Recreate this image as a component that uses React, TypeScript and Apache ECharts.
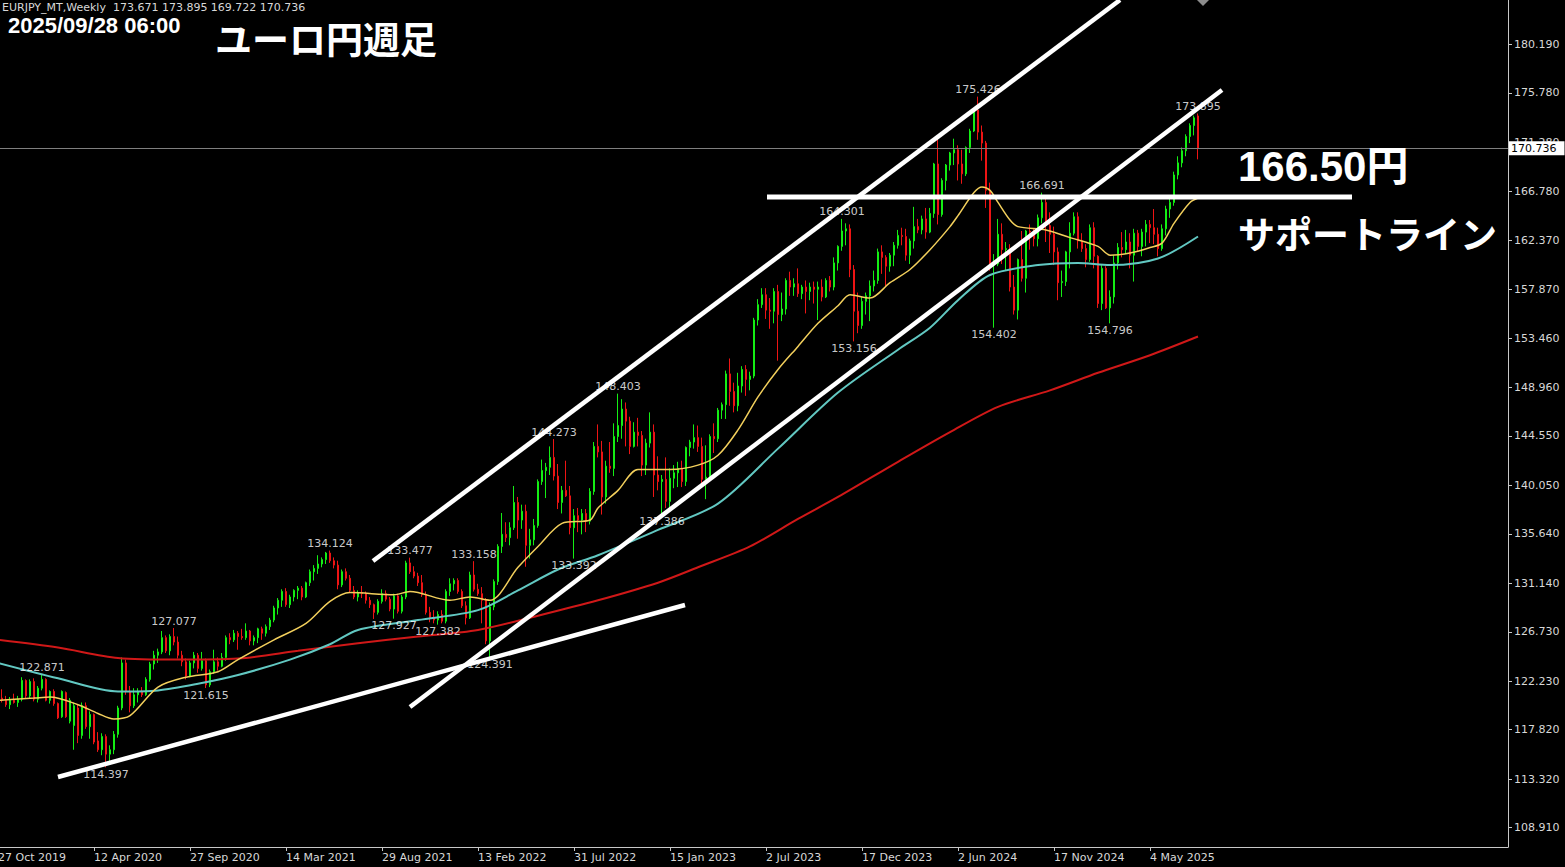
import React, { useEffect, useRef } from 'react';
import * as echarts from 'echarts';

// ---- data ----
const START_WEEK_UTC = Date.UTC(2019, 9, 27); // 27 Oct 2019
const TOTAL_SLOTS = 378;
const LABEL_STEP = 24;
const LAST_LABEL_INDEX = 300;
const MONTHS = ['Jan', 'Feb', 'Mar', 'Apr', 'May', 'Jun', 'Jul', 'Aug', 'Sep', 'Oct', 'Nov', 'Dec'];

// weekly candles [open, high, low, close]
const weeks2019 = [
  [120.9, 121.4, 120.4, 120.7], [120.7, 121.5, 120.3, 120.5], [120.5, 120.9, 119.9, 120.1], [120.1, 120.8, 119.7, 120.5],
  [120.5, 121.1, 120.2, 120.3], [120.3, 120.9, 119.9, 120.6], [120.6, 122.6, 120.4, 122.3], [122.3, 122.4, 120.7, 120.9],
  [120.9, 122.4, 120.7, 122.2], [122.2, 122.5, 120.4, 120.6],
];
const weeks2020 = [
  [120.6, 121.8, 120.3, 121.6], [121.6, 122.871, 121.4, 122.4], [122.4, 122.5, 120.4, 120.5], [120.5, 121.4, 120.2, 121.3],
  [121.3, 121.5, 120.0, 120.2], [120.2, 120.3, 118.8, 118.9], [119.0, 121.4, 118.9, 121.3], [121.2, 121.3, 118.9, 119.0],
  [118.6, 120.7, 118.4, 120.5], [118.2, 120.3, 116.0, 120.0], [119.8, 120.1, 116.6, 117.3], [117.3, 120.3, 117.0, 120.0],
  [120.0, 120.3, 117.9, 118.1], [118.1, 119.5, 117.0, 119.2], [119.2, 119.3, 116.5, 116.7], [116.8, 117.6, 115.8, 116.0],
  [116.0, 117.5, 115.5, 117.2], [117.2, 117.4, 114.397, 115.6], [115.6, 116.4, 114.9, 116.0], [116.0, 117.7, 115.6, 117.4],
  [117.4, 120.0, 117.1, 119.8], [119.8, 124.4, 119.6, 123.9], [123.9, 124.2, 121.0, 121.3], [121.3, 121.8, 119.4, 120.0],
  [120.0, 121.6, 119.8, 121.0], [121.0, 121.6, 120.3, 121.3], [121.3, 121.7, 120.8, 121.0], [121.0, 122.6, 120.9, 122.4],
  [122.4, 124.0, 122.2, 123.8], [123.8, 125.0, 123.3, 124.6], [124.6, 125.2, 123.9, 124.9], [124.9, 126.8, 124.7, 126.2],
  [126.2, 126.4, 124.8, 125.0], [125.0, 126.5, 124.6, 126.3], [126.3, 127.077, 125.5, 125.8], [125.8, 126.3, 124.3, 124.6],
  [124.6, 125.0, 123.6, 124.0], [124.0, 124.3, 122.4, 122.7], [122.7, 124.1, 122.6, 123.9], [123.9, 124.9, 123.4, 124.6],
  [124.6, 124.8, 123.0, 123.4], [123.4, 124.9, 123.2, 124.1], [124.1, 124.3, 121.615, 121.9], [121.9, 123.3, 121.7, 123.1],
  [123.1, 125.1, 122.9, 124.0], [124.0, 124.4, 123.2, 123.6], [123.6, 124.8, 123.5, 124.4], [124.4, 126.4, 124.1, 126.2],
  [126.2, 126.6, 125.6, 126.0], [126.0, 126.9, 125.8, 126.6], [126.6, 126.8, 125.1, 126.3], [126.3, 127.0, 126.0, 126.2],
];
const weeks2021 = [
  [126.2, 127.5, 126.0, 126.8], [126.8, 126.9, 125.5, 125.9], [125.9, 126.4, 125.5, 126.2], [126.2, 127.1, 125.7, 127.0],
  [127.0, 127.2, 126.0, 126.6], [126.6, 127.4, 126.3, 127.2], [127.2, 128.0, 126.9, 127.8], [127.8, 129.1, 127.6, 128.9],
  [128.9, 129.8, 128.3, 129.6], [129.6, 130.6, 129.0, 130.4], [130.4, 130.7, 129.0, 129.2], [129.2, 130.1, 128.9, 129.9],
  [129.9, 130.6, 129.5, 130.5], [130.5, 130.9, 129.7, 130.7], [130.7, 130.9, 129.6, 129.9], [129.9, 131.3, 129.8, 131.2],
  [131.2, 132.4, 130.9, 132.2], [132.2, 132.8, 131.4, 132.5], [132.5, 133.7, 132.0, 132.9], [132.9, 133.5, 132.6, 133.3],
  [133.3, 134.0, 132.9, 133.9], [133.9, 134.124, 133.0, 133.2], [133.2, 133.5, 132.5, 132.8], [132.8, 133.2, 130.6, 131.0],
  [131.0, 132.4, 130.8, 132.2], [132.2, 132.5, 131.4, 131.6], [131.6, 131.9, 130.3, 130.5], [130.5, 130.9, 129.7, 129.9],
  [129.9, 130.5, 129.5, 130.3], [130.3, 130.9, 129.8, 130.2], [130.2, 130.4, 129.3, 129.6], [129.6, 129.9, 128.9, 129.2],
  [129.2, 129.3, 127.9, 128.5], [128.5, 129.7, 128.3, 129.5], [129.5, 130.6, 129.3, 130.2], [130.2, 130.5, 129.5, 129.7],
  [129.7, 129.9, 128.6, 128.8], [128.8, 130.2, 127.927, 130.0], [130.0, 130.2, 128.4, 128.6], [128.6, 130.1, 128.4, 129.9],
  [129.9, 133.2, 129.7, 133.0], [133.0, 133.477, 132.0, 132.2], [132.2, 132.7, 131.6, 131.8], [131.8, 132.1, 130.9, 131.2],
  [131.2, 131.9, 129.9, 130.1], [130.1, 130.4, 128.3, 128.5], [128.5, 129.0, 127.6, 128.0], [128.0, 128.7, 127.5, 127.8],
  [127.8, 128.6, 127.382, 128.3], [128.3, 128.7, 127.5, 127.7], [127.7, 130.6, 127.5, 130.4], [130.4, 131.6, 130.0, 131.1],
];
const weeks2022 = [
  [131.1, 131.6, 130.5, 131.4], [131.4, 131.6, 130.2, 130.4], [130.4, 130.6, 128.9, 129.1], [129.1, 129.5, 127.4, 128.0],
  [128.0, 132.2, 127.9, 131.9], [131.9, 133.158, 130.4, 130.6], [130.6, 131.1, 130.0, 130.2], [130.2, 130.8, 127.5, 129.6],
  [129.6, 129.8, 125.6, 125.9], [125.9, 129.4, 124.391, 129.0], [129.0, 131.5, 128.7, 131.3], [131.3, 134.7, 131.0, 134.5],
  [134.5, 137.54, 133.9, 135.6], [135.6, 136.7, 134.9, 135.3], [135.3, 136.7, 134.6, 136.2], [136.2, 140.0, 136.0, 138.5],
  [138.5, 139.0, 135.2, 136.9], [136.9, 138.3, 136.1, 137.7], [137.7, 138.3, 132.65, 134.6], [134.6, 136.1, 133.4, 135.1],
  [135.1, 137.0, 134.6, 136.4], [136.4, 140.6, 136.2, 140.4], [140.4, 142.4, 140.1, 141.4], [141.4, 142.1, 138.9, 141.7],
  [141.7, 143.6, 141.0, 142.6], [142.6, 144.273, 140.5, 140.9], [140.9, 142.0, 137.9, 138.5], [138.5, 140.0, 137.5, 139.6],
  [139.6, 142.3, 139.0, 139.1], [139.1, 140.0, 135.6, 136.2], [136.2, 137.9, 133.392, 137.3], [137.3, 138.0, 135.8, 136.9],
  [136.9, 137.9, 135.6, 137.5], [137.5, 137.9, 135.8, 136.8], [136.8, 139.8, 136.5, 139.5], [139.5, 144.0, 139.2, 143.6],
  [143.6, 145.6, 142.6, 143.1], [143.1, 144.1, 137.4, 139.0], [139.0, 142.3, 138.4, 141.8], [141.8, 144.0, 141.2, 141.6],
  [141.6, 145.7, 140.9, 144.5], [144.5, 148.403, 144.0, 145.5], [145.5, 147.9, 144.3, 147.0], [147.0, 147.6, 143.6, 145.9],
  [145.9, 146.3, 142.9, 143.6], [143.6, 145.8, 143.5, 144.9], [144.9, 146.2, 143.6, 144.6], [144.6, 145.0, 140.9, 141.9],
  [141.9, 144.3, 141.0, 143.9], [143.9, 146.7, 143.5, 144.9], [144.9, 145.6, 139.0, 141.0], [141.0, 142.7, 139.6, 140.4],
];
const weeks2023 = [
  [140.4, 141.0, 137.386, 140.6], [140.6, 142.6, 138.0, 138.6], [138.6, 141.6, 137.8, 140.7], [140.7, 141.9, 139.8, 141.2],
  [141.2, 142.2, 139.9, 141.6], [141.6, 142.3, 139.9, 140.4], [140.4, 143.6, 140.0, 143.5], [143.5, 144.2, 142.7, 144.0],
  [144.0, 145.6, 143.4, 144.4], [144.4, 145.5, 143.1, 143.6], [143.6, 144.4, 139.9, 140.6], [140.6, 143.7, 138.8, 140.8],
  [140.8, 144.7, 140.6, 144.5], [144.5, 145.7, 143.0, 144.3], [144.3, 147.1, 144.0, 146.9], [146.9, 147.6, 146.1, 147.4],
  [147.4, 150.5, 146.1, 150.2], [150.2, 151.6, 147.3, 148.6], [148.6, 149.4, 146.7, 147.3], [147.3, 150.3, 146.8, 149.1],
  [149.1, 150.9, 148.5, 150.6], [150.6, 151.0, 148.2, 149.7], [149.7, 150.4, 148.7, 150.0], [150.0, 155.3, 149.8, 155.1],
  [155.1, 157.0, 154.6, 156.5], [156.5, 158.0, 156.2, 157.4], [157.4, 158.0, 155.2, 156.0], [156.0, 157.1, 154.3, 155.9],
  [155.9, 158.0, 154.8, 157.7], [157.7, 158.3, 151.4, 155.6], [155.6, 157.6, 155.0, 156.1], [156.1, 158.9, 155.6, 158.7],
  [158.7, 159.5, 157.3, 158.1], [158.1, 158.9, 157.3, 158.4], [158.4, 159.8, 157.2, 157.5], [157.5, 158.3, 157.0, 158.1],
  [158.1, 158.7, 155.7, 157.7], [157.7, 158.5, 156.9, 158.1], [158.1, 158.6, 156.6, 157.9], [157.9, 158.6, 155.1, 158.1],
  [158.1, 158.8, 156.8, 157.2], [157.2, 158.9, 157.1, 158.7], [158.7, 159.1, 157.7, 158.1], [158.1, 160.8, 157.8, 160.3],
  [160.3, 161.9, 159.6, 161.8], [161.8, 164.301, 161.4, 163.2], [163.2, 163.9, 161.9, 163.4], [163.4, 163.8, 159.0, 159.7],
  [159.7, 160.1, 153.156, 155.9], [155.9, 157.6, 153.9, 154.6], [154.6, 157.2, 154.3, 156.8], [156.8, 157.6, 155.6, 157.3],
];
const weeks2024 = [
  [157.3, 158.7, 155.0, 158.2], [158.2, 159.6, 157.7, 158.7], [158.7, 161.6, 158.4, 161.3], [161.3, 161.9, 159.3, 160.8],
  [160.8, 161.0, 158.1, 160.0], [160.0, 161.2, 159.5, 161.0], [161.0, 162.2, 160.0, 161.9], [161.9, 163.3, 161.6, 162.8],
  [162.8, 163.5, 161.9, 162.7], [162.7, 163.4, 160.5, 161.0], [161.0, 162.5, 160.2, 162.3], [162.3, 165.4, 161.6, 163.6],
  [163.6, 164.3, 163.0, 163.3], [163.3, 164.6, 162.9, 164.3], [164.3, 165.3, 162.5, 163.1], [163.1, 165.3, 163.0, 164.8],
  [164.8, 169.4, 164.4, 169.3], [169.3, 171.6, 163.8, 164.7], [164.7, 168.0, 164.5, 167.8], [167.8, 169.3, 166.9, 169.2],
  [169.2, 170.4, 168.7, 170.3], [170.3, 171.6, 169.2, 170.6], [170.6, 171.0, 167.8, 169.3], [169.3, 170.6, 167.5, 168.4],
  [168.4, 170.9, 168.2, 170.8], [170.8, 172.5, 170.3, 172.3], [172.3, 174.3, 172.2, 174.2], [174.2, 175.426, 171.5, 172.2],
  [172.2, 172.8, 169.6, 171.2], [171.2, 171.4, 165.3, 166.9], [166.9, 167.6, 159.6, 160.1], [160.1, 161.1, 154.402, 160.2],
  [160.2, 164.3, 160.0, 162.9], [162.9, 163.9, 160.2, 161.5], [161.5, 162.2, 159.6, 161.6], [161.6, 162.0, 157.7, 158.1],
  [158.1, 159.2, 155.6, 156.0], [156.0, 160.7, 155.15, 160.6], [160.6, 163.2, 158.6, 158.9], [158.9, 163.3, 157.6, 163.2],
  [163.2, 163.8, 161.5, 163.1], [163.1, 163.4, 161.8, 162.5], [162.5, 164.7, 161.8, 164.4], [164.4, 166.691, 163.9, 165.8],
  [165.8, 166.4, 162.2, 163.7], [163.7, 164.9, 161.2, 162.9], [162.9, 163.6, 160.1, 161.3], [161.3, 161.7, 156.9, 158.5],
  [158.5, 159.6, 157.2, 158.6], [158.6, 161.4, 158.2, 161.3], [161.3, 164.0, 159.8, 163.0], [163.0, 164.9, 162.8, 164.5],
];
const weeks2025 = [
  [164.5, 164.9, 161.6, 162.3], [162.3, 163.0, 161.3, 161.6], [161.6, 162.0, 159.9, 160.6], [160.6, 163.8, 160.4, 163.5],
  [163.5, 164.0, 159.8, 160.9], [160.9, 161.0, 156.2, 156.6], [156.6, 160.1, 156.0, 159.8], [159.8, 160.0, 156.1, 156.2],
  [156.2, 157.8, 154.796, 157.2], [157.2, 161.0, 156.6, 160.3], [160.3, 162.1, 159.7, 161.7], [161.7, 163.1, 160.8, 161.5],
  [161.5, 163.3, 161.1, 162.2], [162.2, 163.0, 159.8, 161.0], [161.0, 163.4, 158.6, 163.0], [163.0, 163.3, 161.3, 161.8],
  [161.8, 163.4, 160.9, 163.1], [163.1, 164.2, 161.8, 163.8], [163.8, 164.2, 162.1, 163.5], [163.5, 165.2, 162.0, 162.9],
  [162.9, 163.5, 160.9, 161.6], [161.6, 163.8, 161.4, 163.4], [163.4, 165.5, 162.8, 165.2], [165.2, 166.2, 164.4, 165.8],
  [165.8, 168.6, 165.5, 168.3], [168.3, 170.0, 167.9, 169.4], [169.4, 170.8, 169.0, 170.5], [170.5, 172.0, 170.0, 171.8],
  [171.8, 173.0, 171.2, 172.8], [172.8, 173.7, 171.9, 173.5], [173.671, 173.895, 169.722, 170.736],
];

// price-axis tick labels (as printed on the chart)
const yTickValues = [108.91, 113.32, 117.82, 122.23, 126.73, 131.14, 135.64, 140.05, 144.55, 148.96, 153.46, 157.87, 162.37, 166.78, 171.28, 175.78, 180.19];
const yMin = 107.15;
const yMax = 184.22;

// moving averages, sampled [week index, price]
const maFast = [
  [0, 120.5], [9, 120.7], [13, 120.8], [20, 120.1], [25, 119.3], [29, 118.8], [33, 119.1], [40, 121.7], [47, 122.6],
  [55, 123.1], [60, 124.2], [69, 126.0], [77, 127.5], [83, 129.5], [88, 130.3], [99, 130.1], [103, 130.4], [113, 129.6],
  [118, 129.9], [123, 129.6], [130, 132.6], [135, 134.5], [141, 136.6], [148, 136.9], [150, 138.0], [155, 139.6],
  [160, 141.5], [168, 141.5], [175, 141.9], [180, 142.8], [185, 145.1], [190, 148.1], [195, 150.6], [200, 152.7],
  [205, 154.8], [210, 156.4], [213, 157.4], [218, 157.1], [223, 158.5], [228, 159.7], [233, 161.5], [238, 163.6],
  [240, 164.6], [244, 166.7], [246, 167.2], [248, 166.9], [250, 165.8], [253, 164.2], [255, 163.6], [262, 163.3],
  [268, 162.6], [275, 161.8], [278, 161.0], [283, 161.2], [288, 161.7], [291, 162.1], [294, 163.9], [298, 165.8], [300, 166.2],
];
const maMid = [
  [0, 123.9], [15, 122.5], [30, 121.3], [40, 121.4], [50, 122.0], [60, 122.8], [73, 124.2], [83, 125.6], [90, 126.9],
  [105, 127.8], [120, 128.7], [130, 130.5], [140, 132.4], [150, 133.7], [165, 136.0], [180, 138.4], [195, 143.4],
  [210, 148.5], [225, 152.4], [233, 154.4], [240, 156.9], [248, 159.2], [260, 160.1], [270, 160.3], [278, 160.1],
  [290, 160.7], [300, 162.7],
];
const maSlow = [
  [0, 126.0], [15, 125.3], [30, 124.35], [45, 124.2], [60, 124.3], [75, 125.0], [90, 125.7], [105, 126.3], [120, 126.9],
  [135, 128.2], [150, 129.6], [165, 131.2], [175, 132.6], [188, 134.5], [200, 137.0], [210, 139.0], [225, 142.2],
  [238, 144.9], [250, 147.2], [263, 148.7], [275, 150.3], [288, 151.9], [300, 153.6],
];

// hand-drawn annotation lines, [week index, price]
const supportTrend = [[15, 113.52], [171.75, 129.17]];
const channelLower = [[103, 119.89], [306, 176.03]];
const channelUpper = [[93.75, 133.17], [280.5, 184.22]];
const supportLevel = [[192.25, 166.3], [338.5, 166.3]];

// weeks whose high / low is labelled on the chart
const highLabelWeeks = [11, 44, 83, 103, 119, 139, 155, 211, 245, 261, 300];
const lowLabelWeeks = [27, 52, 99, 110, 123, 144, 166, 214, 249, 278];

const titleText = 'ユーロ円週足';
const dateText = '2025/09/28 06:00';
const levelText = '166.50円';
const levelCaption = 'サポートライン';
const symbolText = 'EURJPY_MT,Weekly';

// ---- derived ----
const candles = [...weeks2019, ...weeks2020, ...weeks2021, ...weeks2022, ...weeks2023, ...weeks2024, ...weeks2025];
const categories = Array.from({ length: TOTAL_SLOTS }, (_, i) => {
  const d = new Date(START_WEEK_UTC + i * 7 * 86400000);
  return `${d.getUTCDate()} ${MONTHS[d.getUTCMonth()]} ${d.getUTCFullYear()}`;
});
const last = candles[candles.length - 1];

const AXIS_FONT = '"DejaVu Sans", Tahoma, sans-serif';
const BULL = '#14ee14';
const BEAR = '#ee1414';

function App() {
  const ref = useRef<HTMLDivElement | null>(null);

  useEffect(() => {
    if (!ref.current) return;
    const chart = echarts.init(ref.current, null, { renderer: 'svg' });
    const labelInterval = (index: number) => index % LABEL_STEP === 0 && index <= LAST_LABEL_INDEX;

    const whiteLine = (data: number[][], width: number) => ({
      type: 'line',
      xAxisIndex: 1,
      yAxisIndex: 0,
      data,
      symbol: 'none',
      silent: true,
      clip: true,
      z: 6,
      lineStyle: { color: '#ffffff', width, cap: 'butt' },
    });
    const maLine = (data: number[][], color: string, width: number) => ({
      type: 'line',
      xAxisIndex: 1,
      yAxisIndex: 0,
      data,
      symbol: 'none',
      smooth: 0.3,
      silent: true,
      z: 3,
      lineStyle: { color, width },
    });
    const pivotLabels = (weeks: number[], field: number, position: string) => ({
      type: 'scatter',
      xAxisIndex: 1,
      yAxisIndex: 0,
      data: weeks.map((w) => [w, candles[w][field]]),
      symbol: 'circle',
      symbolSize: 1,
      silent: true,
      z: 5,
      itemStyle: { color: 'rgba(0,0,0,0)' },
      label: {
        show: true,
        position,
        distance: 1,
        formatter: (p: any) => Number(p.value[1]).toFixed(3),
        color: '#ffffff',
        fontSize: 11,
        fontFamily: AXIS_FONT,
      },
    });

    chart.setOption({
      animation: false,
      backgroundColor: '#000000',
      grid: { left: -4, right: 57, top: 0, bottom: 20, containLabel: false, outerBoundsMode: 'none' },
      xAxis: [
        {
          type: 'category',
          data: categories,
          boundaryGap: true,
          axisLine: { show: true, onZero: false, lineStyle: { color: '#c8c8c8', width: 1 } },
          axisTick: { show: true, alignWithLabel: true, interval: labelInterval, length: 4, lineStyle: { color: '#c8c8c8' } },
          axisLabel: {
            interval: labelInterval,
            align: 'left',
            color: '#d8d8d8',
            fontSize: 11,
            fontFamily: AXIS_FONT,
            margin: 5,
          },
          splitLine: { show: false },
        },
        {
          type: 'value',
          min: -0.5,
          max: TOTAL_SLOTS - 0.5,
          show: false,
          splitLine: { show: false },
        },
      ],
      yAxis: {
        type: 'value',
        position: 'right',
        min: yMin,
        max: yMax,
        splitLine: { show: false },
        axisLine: { show: true, onZero: false, lineStyle: { color: '#c8c8c8', width: 1 } },
        axisTick: { show: true, length: 4, customValues: yTickValues, lineStyle: { color: '#c8c8c8' } },
        axisLabel: {
          customValues: yTickValues,
          formatter: (v: number) => v.toFixed(3),
          color: '#d8d8d8',
          fontSize: 11,
          fontFamily: AXIS_FONT,
          margin: 6,
        },
      },
      series: [
        {
          type: 'candlestick',
          xAxisIndex: 0,
          yAxisIndex: 0,
          data: candles.map(([o, h, l, c]) => [o, c, l, h]),
          barWidth: 2,
          silent: true,
          z: 2,
          itemStyle: { color: BULL, color0: BEAR, borderColor: BULL, borderColor0: BEAR, borderWidth: 1 },
          markLine: {
            silent: true,
            symbol: ['none', 'none'],
            animation: false,
            lineStyle: { color: '#7f7f7f', width: 1, type: 'solid' },
            label: {
              show: true,
              position: 'end',
              distance: 1,
              formatter: last[3].toFixed(3),
              color: '#000000',
              backgroundColor: '#ffffff',
              padding: [2, 8, 1, 2],
              fontSize: 11,
              fontFamily: AXIS_FONT,
            },
            data: [{ yAxis: last[3] }],
          },
        },
        maLine(maSlow, '#d01818', 2),
        maLine(maMid, '#62c8c2', 2),
        maLine(maFast, '#f2cf5c', 1.5),
        pivotLabels(highLabelWeeks, 1, 'top'),
        pivotLabels(lowLabelWeeks, 2, 'bottom'),
        whiteLine(supportTrend, 4.5),
        whiteLine(channelLower, 4.5),
        whiteLine(channelUpper, 4.5),
        whiteLine(supportLevel, 5),
      ],
      graphic: [
        {
          type: 'text',
          x: 2,
          y: 7,
          z: 10,
          style: {
            text: `${symbolText}  ${last[0].toFixed(3)} ${last[1].toFixed(3)} ${last[2].toFixed(3)} ${last[3].toFixed(3)}`,
            fill: '#d8d8d8',
            font: `11px ${AXIS_FONT}`,
            lineHeight: 11,
            verticalAlign: 'middle',
          },
        },
        {
          type: 'text',
          x: 8,
          y: 25,
          z: 10,
          style: {
            text: dateText,
            fill: '#ffffff',
            font: 'bold 22px "Liberation Sans", Arial, sans-serif',
            lineHeight: 18,
            verticalAlign: 'middle',
          },
        },
        {
          type: 'text',
          x: 215,
          y: 38,
          z: 10,
          style: {
            text: titleText,
            fill: '#ffffff',
            font: 'bold 37px "Noto Sans CJK JP", sans-serif',
            lineHeight: 34,
            verticalAlign: 'middle',
          },
        },
        {
          type: 'text',
          x: 1238,
          y: 166,
          z: 10,
          style: {
            text: levelText,
            fill: '#ffffff',
            font: 'bold 42px "Liberation Sans", "Noto Sans CJK JP", sans-serif',
            lineHeight: 40,
            verticalAlign: 'middle',
          },
        },
        {
          type: 'text',
          x: 1238,
          y: 233,
          z: 10,
          style: {
            text: levelCaption,
            fill: '#ffffff',
            font: 'bold 37px "Noto Sans CJK JP", sans-serif',
            lineHeight: 36,
            verticalAlign: 'middle',
          },
        },
        {
          type: 'polygon',
          z: 10,
          shape: { points: [[1197, 0], [1209, 0], [1203, 6]] },
          style: { fill: '#8c8c8c' },
        },
      ],
    });

    return () => chart.dispose();
  }, []);

  return (
    <div
      ref={ref}
      style={{ position: 'absolute', left: 0, top: 0, width: 1565, height: 867, background: '#000' }}
    />
  );
}

export default App;
